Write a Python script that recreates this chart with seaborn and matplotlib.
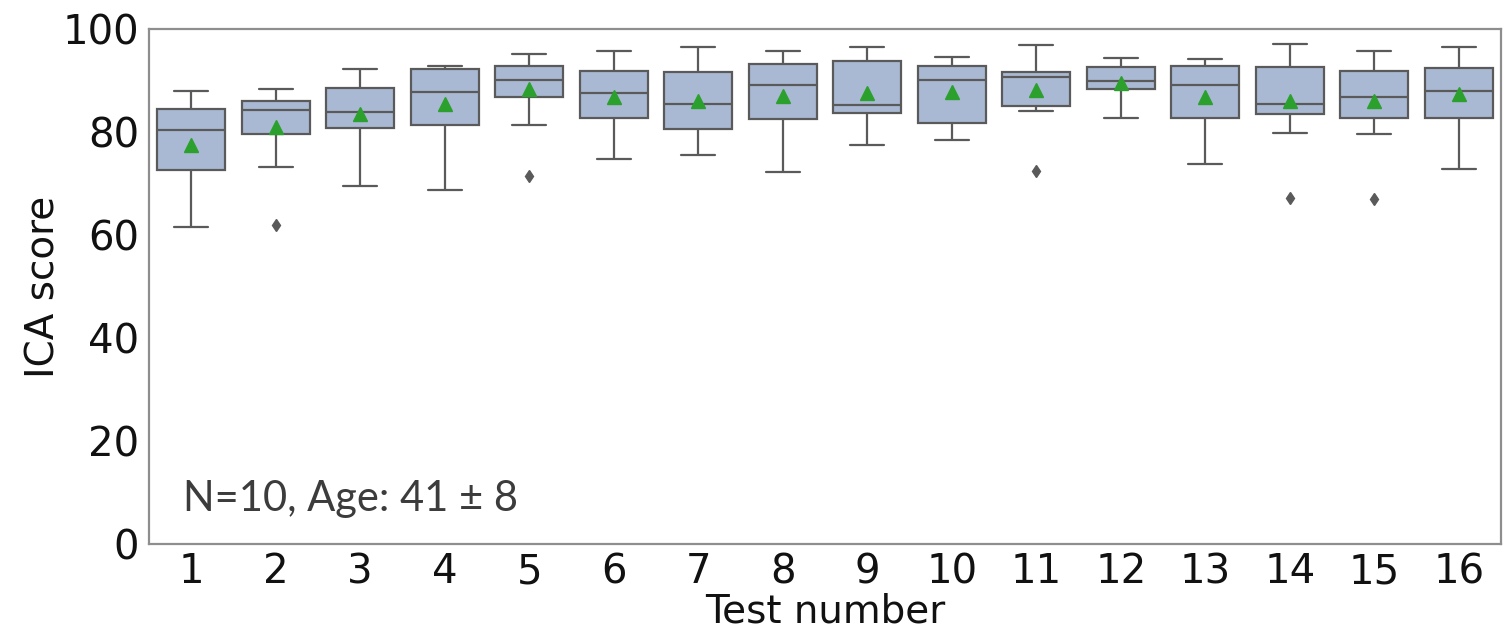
import numpy as np
import pandas as pd
import seaborn as sns
import matplotlib.pyplot as plt

# ICA scores of the 10 participants for each of the 16 tests
tests = [str(i) for i in range(1, 17)]
test_01 = [61.6, 63.5, 72.1, 74.5, 79.0, 81.6, 83.8, 84.6, 85.3, 88.0]
test_02 = [61.9, 73.3, 79.4, 80.6, 83.9, 84.7, 85.7, 86.1, 86.1, 88.3]
test_03 = [69.6, 76.6, 80.3, 81.9, 83.2, 84.6, 87.7, 88.9, 90.0, 92.2]
test_04 = [68.7, 76.8, 80.9, 82.5, 86.8, 88.6, 91.9, 92.3, 92.6, 92.9]
test_05 = [71.4, 81.4, 86.3, 87.9, 89.6, 90.6, 92.5, 92.9, 95.2, 95.2]
test_06 = [74.7, 78.2, 82.4, 84.0, 86.9, 88.3, 91.2, 92.0, 93.5, 95.8]
test_07 = [75.6, 78.4, 80.1, 81.7, 84.6, 86.2, 91.1, 91.9, 94.9, 96.5]
test_08 = [72.3, 76.8, 82.1, 83.7, 88.5, 89.9, 92.9, 93.4, 94.6, 95.8]
test_09 = [77.4, 80.2, 83.3, 84.9, 85.0, 85.6, 93.4, 93.8, 94.9, 96.5]
test_10 = [78.4, 80.6, 81.5, 82.7, 89.6, 90.6, 92.5, 92.9, 93.6, 94.6]
test_11 = [72.5, 84.1, 84.8, 85.6, 90.4, 91.0, 91.4, 91.8, 92.6, 96.8]
test_12 = [82.8, 83.6, 88.1, 88.9, 89.6, 90.2, 92.3, 92.7, 93.4, 94.4]
test_13 = [73.7, 76.8, 82.3, 83.9, 88.5, 89.9, 92.5, 92.9, 93.4, 94.1]
test_14 = [67.2, 79.9, 83.1, 84.3, 85.1, 85.7, 92.3, 92.7, 93.6, 97.1]
test_15 = [66.9, 79.6, 82.5, 83.7, 86.2, 87.2, 91.6, 92.0, 94.5, 95.8]
test_16 = [72.8, 81.2, 82.3, 83.9, 87.4, 88.6, 92.2, 92.6, 95.5, 96.5]
scores = [test_01, test_02, test_03, test_04, test_05, test_06, test_07, test_08,
          test_09, test_10, test_11, test_12, test_13, test_14, test_15, test_16]
y_ticks = [0, 20, 40, 60, 80, 100]
note = "N=10, Age: 41 \u00b1 8"

df = pd.DataFrame({
    "Test number": np.repeat(tests, [len(s) for s in scores]),
    "ICA score": np.concatenate(scores),
})

sns.set_theme(style="white")
plt.rcParams["font.family"] = ["DejaVu Sans"]

box_fill = "#a9b9d4"
line_grey = "#5a5a5a"
frame_grey = "#8e8e8e"
text_color = "#111111"

fig = plt.figure(figsize=(15.04, 6.34), dpi=100)
ax = fig.add_axes([149 / 1504, 90 / 634, (1501 - 149) / 1504, (544 - 29) / 634])

sns.boxplot(
    data=df, x="Test number", y="ICA score", order=tests,
    color=box_fill, saturation=1, linecolor=line_grey, linewidth=1.6, width=0.8,
    showmeans=True,
    meanprops=dict(marker="^", markerfacecolor="#2ca02c", markeredgecolor="#2ca02c",
                   markersize=9.5),
    flierprops=dict(marker="d", markerfacecolor=line_grey, markeredgecolor=line_grey,
                    markersize=6),
    ax=ax,
)

ax.set_ylim(0, 100)
ax.set_yticks(y_ticks)
ax.set_xlabel("Test number", fontsize=28, labelpad=0, color=text_color)
ax.set_ylabel("ICA score", fontsize=28, labelpad=0, color=text_color)
ax.tick_params(axis="both", labelsize=29, length=4, width=1.2, color=frame_grey,
               labelcolor=text_color, direction="out", pad=3)
ax.tick_params(axis="x", pad=2)
for side in ["left", "right", "top", "bottom"]:
    ax.spines[side].set_visible(True)
    ax.spines[side].set_color(frame_grey)
    ax.spines[side].set_linewidth(1.6)

ax.text(0.025, 0.064, note, transform=ax.transAxes, fontsize=30, color="#3c3c3c",
        family=["Lato", "DejaVu Sans"], ha="left", va="baseline")

fig.savefig("out.png", dpi=100)
